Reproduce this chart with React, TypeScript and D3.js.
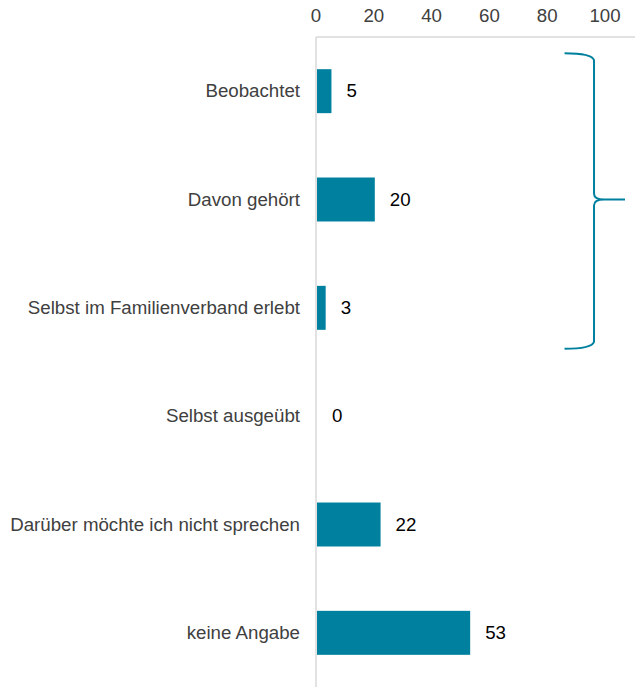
import React from "react";
import * as d3 from "d3";

const categories = [
  "Beobachtet",
  "Davon gehört",
  "Selbst im Familienverband erlebt",
  "Selbst ausgeübt",
  "Darüber möchte ich nicht sprechen",
  "keine Angabe",
];
const values = [5, 20, 3, 0, 22, 53];
const ticks = [0, 20, 40, 60, 80, 100];
// categories grouped by the curly brace
const bracedGroup = ["Beobachtet", "Davon gehört", "Selbst im Familienverband erlebt"];

const W = 635;
const H = 687;
const left = 316;
const top = 37;
const barColor = "#00809f";
const font = "'Liberation Sans', Arial, sans-serif";
const fs = 18.7;

export default function App() {
  const x = d3.scaleLinear().domain([0, 100]).range([left, 605]);
  const y = d3.scaleBand<string>().domain(categories).range([top, H]).paddingInner(0.594).paddingOuter(0.297);
  const bw = y.bandwidth();

  // brace geometry around the grouped categories
  const firstC = (y(bracedGroup[0]) as number) + bw / 2;
  const lastC = (y(bracedGroup[bracedGroup.length - 1]) as number) + bw / 2;
  const midC = (firstC + lastC) / 2;
  const bTop = firstC - 38;
  const bBot = lastC + 41;
  const bx0 = x(86);
  const bx1 = x(96.2);
  const bTip = bx1 + 31;
  const brace = `M${bx0},${bTop} Q${bx1 - 2},${bTop} ${bx1},${bTop + 7} L${bx1},${midC - 6} Q${bx1},${midC} ${bx1 + 10},${midC} L${bTip},${midC} M${bx1 + 10},${midC} Q${bx1},${midC} ${bx1},${midC + 6} L${bx1},${bBot - 7} Q${bx1 - 2},${bBot} ${bx0},${bBot}`;

  return (
    <svg width={W} height={H} style={{ position: "absolute", left: 0, top: 0, display: "block" }} fontFamily={font}>
      <rect width={W} height={H} fill="#fff" />
      {/* frame */}
      <line x1={left} x2={W} y1={top} y2={top} stroke="#d9d9d9" strokeWidth={1.5} />
      <line x1={left} x2={left} y1={top} y2={H} stroke="#d9d9d9" strokeWidth={1.5} />
      {ticks.map((t) => (
        <text key={t} x={x(t)} y={22} textAnchor="middle" fontSize={fs} fill="#404040">
          {t}
        </text>
      ))}
      {categories.map((c, i) => {
        const cy = (y(c) as number) + bw / 2;
        return (
          <g key={c}>
            <text x={300} y={cy + 6.3} textAnchor="end" fontSize={fs} fill="#404040">
              {c}
            </text>
            {values[i] > 0 && (
              <rect x={x(0) + 1} y={y(c) as number} width={x(values[i]) - x(0)} height={bw} fill={barColor} />
            )}
            <text x={x(values[i]) + 16} y={cy + 6.3} fontSize={fs} fill="#000">
              {values[i]}
            </text>
          </g>
        );
      })}
      <path d={brace} fill="none" stroke={barColor} strokeWidth={2} />
    </svg>
  );
}
